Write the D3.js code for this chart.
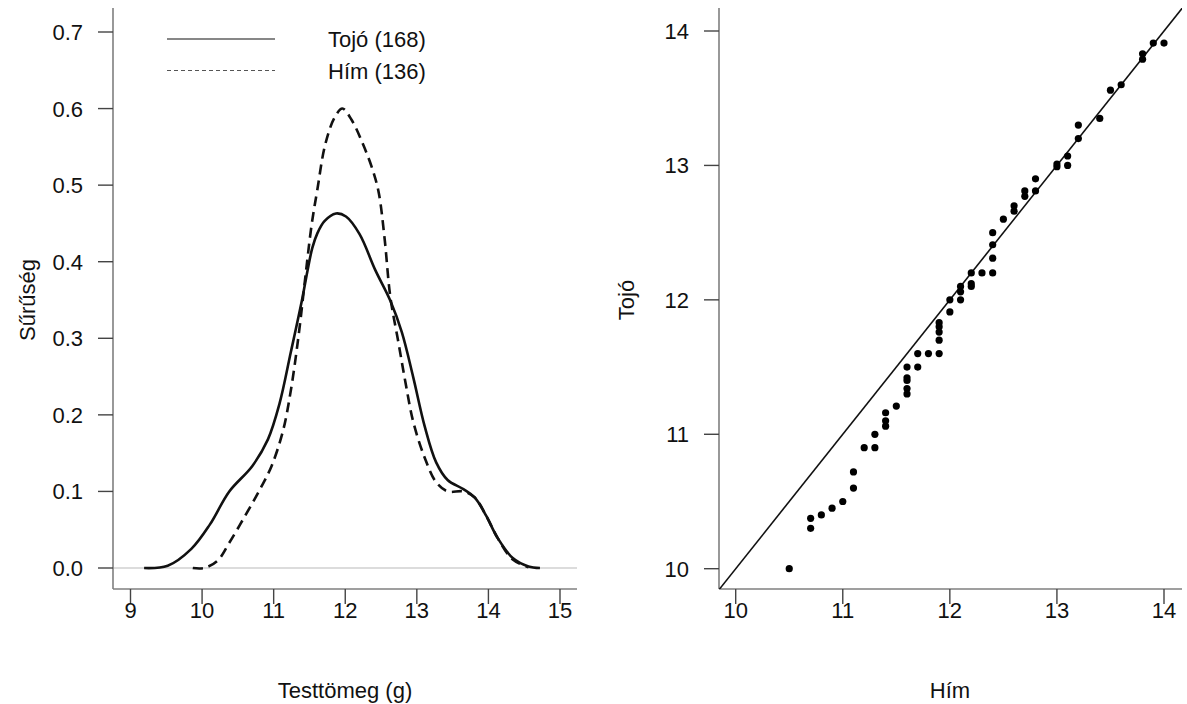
<!DOCTYPE html>
<html>
<head>
<meta charset="utf-8">
<script src="https://cdn.jsdelivr.net/npm/d3@7"></script>
<style>
  html, body { margin: 0; padding: 0; background: #fff; }
  text { font-family: "Liberation Sans", Arial, sans-serif; fill: #111; }
</style>
</head>
<body>
<svg id="chart" width="1187" height="704"></svg>
<script>
// ---- Data ----
// Left panel: kernel density of body mass
const tojoDensX = [9.19, 9.52, 9.85, 10.11, 10.38, 10.70, 10.92, 11.08, 11.24, 11.40, 11.47, 11.54, 11.61, 11.71, 11.87, 12.01, 12.20, 12.42, 12.63, 12.79, 12.95, 13.11, 13.27, 13.43, 13.65, 13.81, 13.97, 14.13, 14.34, 14.56, 14.72];
const tojoDensY = [0.000, 0.003, 0.025, 0.057, 0.100, 0.133, 0.168, 0.214, 0.282, 0.352, 0.387, 0.418, 0.437, 0.453, 0.463, 0.459, 0.436, 0.389, 0.349, 0.308, 0.249, 0.185, 0.138, 0.115, 0.103, 0.092, 0.068, 0.039, 0.013, 0.002, 0.000];
const himDensX = [9.87, 10.03, 10.22, 10.38, 10.60, 10.81, 10.97, 11.13, 11.24, 11.35, 11.44, 11.53, 11.61, 11.72, 11.85, 11.96, 12.09, 12.25, 12.39, 12.47, 12.55, 12.63, 12.74, 12.84, 12.95, 13.11, 13.27, 13.43, 13.65, 13.81, 13.97, 14.13, 14.34, 14.56];
const himDensY = [0.000, 0.000, 0.010, 0.033, 0.068, 0.103, 0.133, 0.179, 0.232, 0.305, 0.378, 0.448, 0.494, 0.553, 0.588, 0.600, 0.585, 0.553, 0.518, 0.489, 0.430, 0.354, 0.296, 0.243, 0.191, 0.144, 0.112, 0.100, 0.100, 0.092, 0.068, 0.039, 0.011, 0.001];
const legendLabels = ["Tojó (168)", "Hím (136)"];
const densXTicks = [9, 10, 11, 12, 13, 14, 15];
const densYTicks = [0.0, 0.1, 0.2, 0.3, 0.4, 0.5, 0.6, 0.7];

// Right panel: Q-Q plot (x = Hím, y = Tojó)
const qqHim  = [10.5, 10.7, 10.7, 10.8, 10.9, 11.0, 11.1, 11.1, 11.2, 11.3, 11.3, 11.4, 11.4, 11.4, 11.5, 11.6, 11.6, 11.6, 11.6, 11.6, 11.7, 11.7, 11.8, 11.9, 11.9, 11.9, 11.9, 11.9, 12.0, 12.0, 12.1, 12.1, 12.1, 12.2, 12.2, 12.2, 12.3, 12.4, 12.4, 12.4, 12.4, 12.5, 12.6, 12.6, 12.7, 12.7, 12.8, 12.8, 13.0, 13.0, 13.1, 13.1, 13.2, 13.2, 13.4, 13.5, 13.6, 13.8, 13.8, 13.9, 14.0];
const qqTojo = [10.00, 10.30, 10.375, 10.40, 10.45, 10.50, 10.60, 10.72, 10.90, 10.90, 11.00, 11.06, 11.10, 11.16, 11.21, 11.30, 11.34, 11.40, 11.42, 11.50, 11.50, 11.60, 11.60, 11.60, 11.70, 11.76, 11.80, 11.83, 11.91, 12.00, 12.00, 12.06, 12.10, 12.10, 12.12, 12.20, 12.20, 12.20, 12.31, 12.41, 12.50, 12.60, 12.66, 12.70, 12.77, 12.81, 12.81, 12.90, 12.99, 13.01, 13.00, 13.07, 13.20, 13.30, 13.35, 13.56, 13.60, 13.79, 13.83, 13.91, 13.91];
const qqTicks = [10, 11, 12, 13, 14];

// ---- Layout ----
const svg = d3.select("#chart");
const FONT = 22;
const L = { left: 113, right: 577, top: 8, bottom: 589 };
const R = { left: 719, right: 1182, top: 8, bottom: 589 };

const xL = d3.scaleLinear().domain([9, 15]).range([130.5, 560]);
const yL = d3.scaleLinear().domain([0, 0.7]).range([568, 32]);
const xR = d3.scaleLinear().domain([10, 14]).range([735.7, 1164]);
const yR = d3.scaleLinear().domain([10, 14]).range([568.7, 31]);

const axisColor = "#7f7f7f";
const tickColor = "#444";

function drawFrame(P) {
  svg.append("line").attr("x1", P.left).attr("x2", P.left).attr("y1", P.top).attr("y2", P.bottom)
    .attr("stroke", axisColor).attr("stroke-width", 1.6);
  svg.append("line").attr("x1", P.left).attr("x2", P.right).attr("y1", P.bottom).attr("y2", P.bottom)
    .attr("stroke", axisColor).attr("stroke-width", 1.6);
}

function drawXTicks(P, scale, ticks, fmt) {
  const g = svg.append("g");
  ticks.forEach(t => {
    const x = scale(t);
    g.append("line").attr("x1", x).attr("x2", x).attr("y1", P.bottom).attr("y2", P.bottom + 15)
      .attr("stroke", tickColor).attr("stroke-width", 1.4);
    g.append("text").attr("x", x).attr("y", 618).attr("text-anchor", "middle")
      .attr("font-size", FONT).text(fmt(t));
  });
}
function drawYTicks(P, scale, ticks, fmt) {
  const g = svg.append("g");
  ticks.forEach(t => {
    const y = scale(t);
    g.append("line").attr("x1", P.left - 15).attr("x2", P.left).attr("y1", y).attr("y2", y)
      .attr("stroke", tickColor).attr("stroke-width", 1.4);
    g.append("text").attr("x", P.left - 30).attr("y", y + 8).attr("text-anchor", "end")
      .attr("font-size", FONT).text(fmt(t));
  });
}

// ---- Left panel ----
svg.append("line").attr("x1", L.left).attr("x2", L.right).attr("y1", yL(0)).attr("y2", yL(0))
  .attr("stroke", "#d0d0d0").attr("stroke-width", 1.6);
drawFrame(L);
drawXTicks(L, xL, densXTicks, d3.format("d"));
drawYTicks(L, yL, densYTicks, d3.format(".1f"));

const densLine = d3.line().x(d => xL(d[0])).y(d => yL(d[1])).curve(d3.curveCatmullRom.alpha(0.5));
const tojoPts = tojoDensX.map((x, i) => [x, tojoDensY[i]]);
const himPts = himDensX.map((x, i) => [x, himDensY[i]]);

svg.append("path").datum(himPts).attr("d", densLine).attr("fill", "none")
  .attr("stroke", "#111").attr("stroke-width", 2.6).attr("stroke-dasharray", "10,6");
svg.append("path").datum(tojoPts).attr("d", densLine).attr("fill", "none")
  .attr("stroke", "#111").attr("stroke-width", 2.6);

// Legend
const leg = svg.append("g");
const legY = [39, 70.5];
leg.append("line").attr("x1", 167).attr("x2", 275).attr("y1", legY[0]).attr("y2", legY[0])
  .attr("stroke", "#111").attr("stroke-width", 1.2);
leg.append("line").attr("x1", 167).attr("x2", 275).attr("y1", legY[1]).attr("y2", legY[1])
  .attr("stroke", "#555").attr("stroke-width", 1.1).attr("stroke-dasharray", "4,3");
legendLabels.forEach((lab, i) => {
  leg.append("text").attr("x", 328).attr("y", legY[i] + 8).attr("font-size", FONT).text(lab);
});

svg.append("text").attr("x", 345).attr("y", 698).attr("text-anchor", "middle")
  .attr("font-size", FONT).text("Testtömeg (g)");
svg.append("text").attr("transform", "translate(35,300) rotate(-90)").attr("text-anchor", "middle")
  .attr("font-size", FONT).text("Sűrűség");

// ---- Right panel ----
drawFrame(R);
drawXTicks(R, xR, qqTicks, d3.format("d"));
drawYTicks(R, yR, qqTicks, d3.format("d"));

svg.append("defs").append("clipPath").attr("id", "clipR").append("rect")
  .attr("x", R.left).attr("y", R.top).attr("width", R.right - R.left).attr("height", R.bottom - R.top);

const idLine = [[9.5, 9.5], [14.5, 14.5]];
svg.append("path").datum(idLine).attr("clip-path", "url(#clipR)")
  .attr("d", d3.line().x(d => xR(d[0])).y(d => yR(d[1])))
  .attr("stroke", "#111").attr("stroke-width", 1.6).attr("fill", "none");

svg.append("g").selectAll("circle").data(qqHim.map((h, i) => [h, qqTojo[i]])).join("circle")
  .attr("cx", d => xR(d[0])).attr("cy", d => yR(d[1])).attr("r", 3.6).attr("fill", "#000");

svg.append("text").attr("x", 950).attr("y", 698).attr("text-anchor", "middle")
  .attr("font-size", FONT).text("Hím");
svg.append("text").attr("transform", "translate(634,300) rotate(-90)").attr("text-anchor", "middle")
  .attr("font-size", FONT).text("Tojó");
</script>
</body>
</html>
